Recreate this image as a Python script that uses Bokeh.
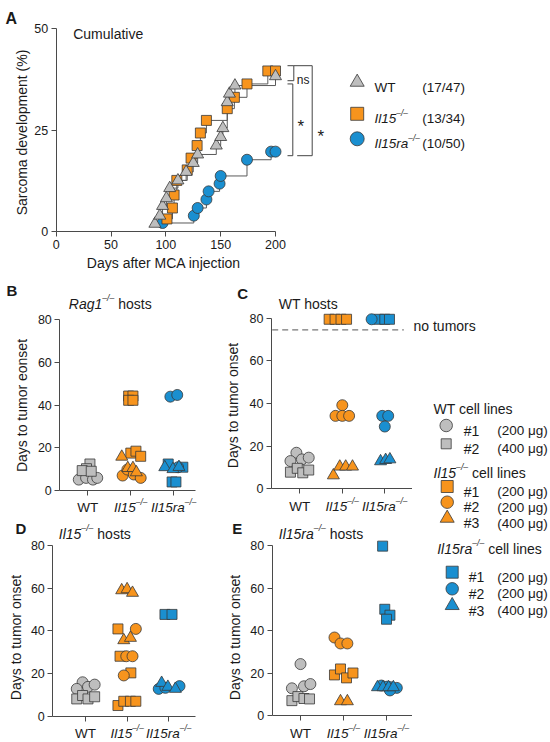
import math
from bokeh.plotting import figure
from bokeh.models import Range1d, FixedTicker, Label
from bokeh.layouts import column, row
from bokeh.embed import file_html
from bokeh.resources import INLINE

FONT = "Liberation Sans"
TXT = "#1a1a1a"
GRAY, ORANGE, BLUE = "#bebebe", "#f7941d", "#1a8fd0"
EDGE = "#383838"
AXC = "#4a4a4a"

# ---------------- Panel A data (cumulative sarcoma development) ----------------
A_WT_DAYS = [90, 94.5, 97, 100.5, 103.5, 111, 118.5, 125, 129, 146, 150, 152, 156, 158, 163, 200]
A_WT_PCT = [1.9, 3.9, 6.3, 8.2, 10.7, 12.6, 14.7, 16.9, 19.0, 21.2, 23.3, 25.5, 31.9, 34.0, 36.0, 38.3]
A_IL15_DAYS = [101, 106, 107.5, 110, 119.5, 123, 128.5, 131.5, 137, 156, 162.5, 174, 193, 200]
A_IL15_PCT = [3.1, 5.8, 9.0, 12.6, 15.2, 18.1, 21.2, 24.3, 27.4, 30.3, 33.1, 36.4, 39.6, 39.6]
A_IL15RA_DAYS = [97, 125.5, 129, 137, 139, 149, 150, 174, 196, 200]
A_IL15RA_PCT = [2.1, 3.9, 5.8, 7.9, 9.9, 11.8, 13.7, 17.7, 19.7, 19.7]
A_COUNTS = ["(17/47)", "(13/34)", "(10/50)"]
A_X_TICKS = [0, 50, 100, 150, 200]
A_Y_TICKS = [0, 25, 50]
A_SIG = [(37.2, 40.9, "ns"), (18.7, 36.4, "*"), (18.7, 40.9, "*")]

# ---------------- Panels B-E: days to tumor onset (jitter, value) ----------------
B_WT1_JIT = [-0.21, -0.04, 0.12, 0.22]
B_WT1_Y = [5.1, 5.9, 5.1, 5.9]
B_WT2_JIT = [0.05, -0.03, -0.13, 0.08]
B_WT2_Y = [12.4, 10.2, 9.3, 9.0]
B_IL15_1_JIT = [-0.05, 0.05, -0.05, 0.05, 0.0, 0.12, 0.23]
B_IL15_1_Y = [44.2, 44.2, 42.2, 42.2, 17.5, 18.4, 16.0]
B_IL15_2_JIT = [-0.19, -0.08, 0.07, 0.23]
B_IL15_2_Y = [7.0, 9.8, 7.5, 5.9]
B_IL15_3_JIT = [-0.21, -0.07, 0.05, 0.13]
B_IL15_3_Y = [15.8, 10.5, 10.5, 8.5]
B_IL15RA_1_JIT = [-0.13, 0.21, -0.04, 0.05]
B_IL15RA_1_Y = [12.4, 10.9, 4.0, 4.0]
B_IL15RA_2_JIT = [-0.08, 0.08, 0.10]
B_IL15RA_2_Y = [43.9, 44.7, 10.9]
B_IL15RA_3_JIT = [-0.21, -0.02, 0.12]
B_IL15RA_3_Y = [10.9, 10.0, 11.0]

C_WT1_JIT = [-0.08, -0.22, 0.05, 0.21]
C_WT1_Y = [16.9, 13.0, 13.8, 14.6]
C_WT2_JIT = [-0.22, -0.06, 0.07, 0.21]
C_WT2_Y = [7.8, 9.6, 7.5, 8.8]
C_IL15_1_JIT = [-0.31, -0.17, -0.03, 0.10]
C_IL15_1_Y = [79.5, 79.5, 79.5, 79.5]
C_IL15_2_JIT = [0.0, -0.16, 0.0, 0.16]
C_IL15_2_Y = [39.2, 34.2, 34.2, 34.2]
C_IL15_3_JIT = [-0.21, -0.06, 0.08, 0.24]
C_IL15_3_Y = [6.3, 10.4, 10.4, 10.4]
C_IL15RA_1_JIT = [-0.14, 0.0, 0.11]
C_IL15RA_1_Y = [79.5, 79.5, 79.5]
C_IL15RA_2_JIT = [-0.31, -0.06, 0.08, 0.0]
C_IL15RA_2_Y = [79.5, 34.2, 34.2, 29.2]
C_IL15RA_3_JIT = [-0.10, 0.02, 0.12]
C_IL15RA_3_Y = [12.9, 13.5, 13.8]
C_NO_TUMOR_LINE = 74.5

D_WT1_JIT = [-0.07, -0.21, 0.06, 0.22]
D_WT1_Y = [15.9, 12.8, 13.75, 14.8]
D_WT2_JIT = [-0.21, -0.07, 0.06, 0.22]
D_WT2_Y = [8.1, 9.7, 8.1, 9.1]
D_IL15_1_JIT = [-0.22, -0.17, 0.09, -0.22, -0.08, 0.08, 0.21]
D_IL15_1_Y = [40.9, 28.1, 20.3, 5.0, 7.0, 7.0, 7.0]
D_IL15_2_JIT = [0.21, -0.02, 0.13, -0.08]
D_IL15_2_Y = [40.9, 28.1, 28.1, 19.1]
D_IL15_3_JIT = [-0.13, 0.0, 0.13, -0.08, 0.08]
D_IL15_3_Y = [59.0, 59.5, 57.8, 35.6, 36.7]
D_IL15RA_1_JIT = [-0.09, 0.08]
D_IL15RA_1_Y = [47.7, 47.7]
D_IL15RA_2_JIT = [-0.24, -0.08, 0.26]
D_IL15RA_2_Y = [12.8, 13.3, 14.1]
D_IL15RA_3_JIT = [-0.17, -0.02, 0.16]
D_IL15RA_3_Y = [15.6, 13.75, 12.8]

E_WT1_JIT = [0.0, -0.20, 0.08, 0.23]
E_WT1_Y = [24.2, 12.8, 13.75, 14.8]
E_WT2_JIT = [-0.20, -0.06, 0.08, 0.21]
E_WT2_Y = [7.0, 8.9, 8.0, 7.8]
E_IL15_1_JIT = [-0.21, -0.07, 0.07, 0.22]
E_IL15_1_Y = [19.1, 21.9, 17.7, 20.0]
E_IL15_2_JIT = [-0.21, -0.07, 0.09]
E_IL15_2_Y = [36.7, 33.9, 33.9]
E_IL15_3_JIT = [-0.07, 0.09]
E_IL15_3_Y = [6.7, 6.7]
E_IL15RA_1_JIT = [-0.09, -0.04, 0.08, 0.0]
E_IL15RA_1_Y = [79.7, 50.0, 47.2, 45.3]
E_IL15RA_2_JIT = [-0.12, 0.02, 0.10, 0.24, 0.08]
E_IL15RA_2_Y = [14.1, 13.6, 13.3, 13.0, 11.8]
E_IL15RA_3_JIT = [-0.21, -0.08, 0.05, 0.16]
E_IL15RA_3_Y = [13.3, 13.3, 13.3, 13.3]

ONSET_Y_TICKS = [0, 20, 40, 60, 80]
CATEGORY_POS = [1, 2, 3]
CATEGORY_LABELS = [[("WT", "n")], [("Il15", "i"), ("–/–", "s")], [("Il15ra", "i"), ("–/–", "s")]]
SERIES = [("WT1", 1, "circle", GRAY), ("WT2", 1, "square", GRAY),
          ("IL15_1", 2, "square", ORANGE), ("IL15_2", 2, "circle", ORANGE), ("IL15_3", 2, "triangle", ORANGE),
          ("IL15RA_1", 3, "square", BLUE), ("IL15RA_2", 3, "circle", BLUE), ("IL15RA_3", 3, "triangle", BLUE)]
MSIZE = {"circle": 11, "square": 10, "triangle": 12}

# ---------------- text helpers ----------------
CW = {'I': 278, 'l': 222, '1': 556, '5': 556, 'r': 333, 'a': 556, '–': 556, '/': 278, ' ': 278,
      'h': 556, 'o': 556, 's': 500, 't': 278, 'R': 722, 'g': 556, 'c': 500, 'e': 556, 'i': 222,
      'n': 556, 'W': 944, 'T': 611, '(': 333, ')': 333, '#': 556, 'μ': 576, 'u': 556, 'm': 833}


def tw(s, size):
    return sum(CW.get(ch, 556) for ch in s) / 1000.0 * size


class Panel:
    """A figure whose frame fills its canvas; (ox, oy) is its page position.
    mapx = (data value, page x, px per unit); mapy = (data value, page y, px per unit)."""

    def __init__(self, ox, oy, w, h, mapx, mapy):
        vx, px, sx = mapx
        vy, py, sy = mapy
        x0 = vx - (px - ox) / sx
        y1 = vy + (py - oy) / sy
        self.ox, self.oy, self.w, self.h = ox, oy, w, h
        self.xr = (x0, x0 + w / sx)
        self.yr = (y1 - h / sy, y1)
        self.p = figure(width=w, height=h, x_range=Range1d(*self.xr), y_range=Range1d(*self.yr),
                        output_backend="svg", toolbar_location=None, title=None,
                        min_border=0, min_border_left=0, min_border_right=0,
                        min_border_top=0, min_border_bottom=0)
        self.p.grid.visible = False
        self.p.outline_line_color = None
        self.p.background_fill_color = "white"
        self.p.border_fill_color = "white"

    def X(self, px):
        return self.xr[0] + (px - self.ox) / self.w * (self.xr[1] - self.xr[0])

    def Y(self, py):
        return self.yr[1] - (py - self.oy) / self.h * (self.yr[1] - self.yr[0])

    def text(self, px, py, parts, size, align="left", color=TXT):
        """px: left (or centre) page x, py: visual centre page y"""
        sup = 0.62
        widths = [tw(t, size * sup if k == "s" else size) for t, k in parts]
        total = sum(widths)
        off = 0.0 if align == "left" else -total / 2.0
        x, y = self.X(px), self.Y(py)
        for (t, k), wdt in zip(parts, widths):
            fs = size * sup if k == "s" else size
            stripped = t.lstrip(" ")
            lead = tw(" " * (len(t) - len(stripped)), fs)
            yo = -0.36 * size + (0.42 * size if k == "s" else 0.0)
            if k == "star":
                yo = -0.55 * size
            self.p.add_layout(Label(x=x, y=y, text=stripped, x_offset=off + lead, y_offset=yo,
                                    text_font=FONT, text_font_size=f"{fs:.1f}px",
                                    text_font_style={"i": "italic", "s": "italic", "b": "bold"}.get(k, "normal"),
                                    text_align="left", text_baseline="alphabetic", text_color=color))
            off += wdt

    def vtext(self, px, py, s, size):
        self.p.add_layout(Label(x=self.X(px), y=self.Y(py), text=s, angle=math.pi / 2,
                                text_font=FONT, text_font_size=f"{size}px", text_align="center",
                                text_baseline="middle", text_color=TXT))


def style_axes(P, xticks, xb, xloc, yticks, yb, yloc, tick_size, tick_standoff, hide_x_labels=False):
    p = P.p
    for ax in (p.xaxis[0], p.yaxis[0]):
        ax.axis_line_color = AXC
        ax.axis_line_width = 1
        ax.major_tick_line_color = AXC
        ax.major_tick_out = 5
        ax.major_tick_in = 0
        ax.minor_tick_line_color = None
        ax.major_label_text_font = FONT
        ax.major_label_text_font_size = tick_size
        ax.major_label_text_color = TXT
        ax.major_label_standoff = tick_standoff
    p.xaxis.ticker = FixedTicker(ticks=xticks)
    p.xaxis.bounds = xb
    p.xaxis.fixed_location = xloc
    p.yaxis.ticker = FixedTicker(ticks=yticks)
    p.yaxis.bounds = yb
    p.yaxis.fixed_location = yloc
    if hide_x_labels:
        p.xaxis.major_label_text_color = None


def mk(p, xs, ys, marker, color, size):
    p.scatter(xs, ys, marker=marker, size=size, fill_color=color, line_color=EDGE, line_width=0.8)


# ---------------- Panel A ----------------
A = Panel(0, 0, 550, 272, (0, 55.7, 1.0965), (0, 231, 4.054))
style_axes(A, A_X_TICKS, (0, 200), 0, A_Y_TICKS, (0, 50), 0, "12.5px", 3)
pa = A.p
for days, pct in ((A_IL15RA_DAYS, A_IL15RA_PCT), (A_IL15_DAYS, A_IL15_PCT), (A_WT_DAYS, A_WT_PCT)):
    pa.step(days, pct, mode="after", line_color="#5a5a5a", line_width=1)
mk(pa, A_IL15RA_DAYS, A_IL15RA_PCT, "circle", BLUE, 11)
mk(pa, A_IL15_DAYS, A_IL15_PCT, "square", ORANGE, 10)
mk(pa, A_WT_DAYS, A_WT_PCT, "triangle", GRAY, 12)

# significance brackets
bx_in, bx_ns, bx_mid, bx_out, bx_outlow = A.X(287), A.X(293.3), A.X(292.3), A.X(311.7), A.X(296.7)
(ns_lo, ns_hi, ns_t), (s1_lo, s1_hi, s1_t), (s2_lo, s2_hi, s2_t) = A_SIG
pa.multi_line(
    xs=[[bx_in, bx_ns, bx_ns, bx_in], [bx_in, bx_mid, bx_mid, bx_in], [bx_ns, bx_out, bx_out, bx_outlow]],
    ys=[[ns_hi, ns_hi, ns_lo, ns_lo], [s1_hi, s1_hi, s1_lo, s1_lo], [s2_hi, s2_hi, s2_lo, s2_lo]],
    line_color="#444444", line_width=1)
A.text(302.7, 75, [(ns_t, "n")], 12, align="center")
A.text(301.7, 117, [(s1_t, "star")], 17, align="center")
A.text(321.7, 127, [(s2_t, "star")], 17, align="center")

# legend A
A_LEG = [("triangle", GRAY, 14, [("WT", "n")]),
         ("square", ORANGE, 13, [("Il15", "i"), ("–/–", "s")]),
         ("circle", BLUE, 14, [("Il15ra", "i"), ("–/–", "s")])]
for (marker, col, sz, parts), cnt, py in zip(A_LEG, A_COUNTS, (81.7, 113.3, 138.3)):
    mk(pa, [A.X(356.7)], [A.Y(py)], marker, col, sz)
    A.text(374, py, parts, 13.5)
    A.text(421.7, py, [(cnt, "n")], 13.5)
A.text(72.7, 28.3, [("Cumulative", "n")], 14)
A.text(5, 12.5, [("A", "b")], 16)
A.vtext(21, 132, "Sarcoma development (%)", 14)
A.text(163, 257, [("Days after MCA injection", "n")], 14, align="center")


# ---------------- Panels B-E ----------------
def onset_panel(prefix, ox, oy, w, h, cat1, sp, y0_page, per_unit, yaxis_page, xend_page,
                ylabel, ylabel_xy, letter, letter_xy, title_parts, title_xy, cat_y):
    P = Panel(ox, oy, w, h, (1, cat1, sp), (0, y0_page, per_unit))
    style_axes(P, CATEGORY_POS, (P.X(yaxis_page), P.X(xend_page)), 0,
               ONSET_Y_TICKS, (0, 80), P.X(yaxis_page), "12.5px", 3, hide_x_labels=True)
    g = globals()
    for name, cat, marker, col in SERIES:
        jit = g[f"{prefix}_{name}_JIT"]
        ys = g[f"{prefix}_{name}_Y"]
        mk(P.p, [cat + j for j in jit], ys, marker, col, MSIZE[marker])
    for c, parts in zip(CATEGORY_POS, CATEGORY_LABELS):
        P.text(cat1 + (c - 1) * sp, cat_y, parts, 13.5, align="center")
    P.text(letter_xy[0], letter_xy[1], [(letter, "b")], 15)
    P.text(title_xy[0], title_xy[1], title_parts, 14)
    P.vtext(ylabel_xy[0], ylabel_xy[1], ylabel, 14)
    return P


ROW2_TOP, ROW3_TOP = 272, 514
H2, H3 = ROW3_TOP - ROW2_TOP, 742 - ROW3_TOP

B = onset_panel("B", 0, ROW2_TOP, 215, H2, 87.3, 43.0, 490, 2.1375, 59.3, 195,
                "Days to tumor eonset", (21, 405), "B", (6, 285),
                [("Rag1", "i"), ("–/–", "s"), (" hosts", "n")], (68.3, 298), 502)
C = onset_panel("C", 215, ROW2_TOP, 197, H2, 299.3, 42.5, 488.3, 2.1325, 271, 411.7,
                "Days to tumor onset", (232.5, 405), "C", (236.7, 287.7),
                [("WT hosts", "n")], (278.3, 298.3), 501.5)
# dashed "no tumors" threshold line, from the y axis to the end of the x axis
C.p.line([C.X(271.7), C.X(403.3)], [C_NO_TUMOR_LINE, C_NO_TUMOR_LINE], line_color="#777777",
         line_width=1.2, line_dash="6 4")
D = onset_panel("D", 0, ROW3_TOP, 215, H3, 85.0, 41.6, 715.7, 2.134, 52.3, 195,
                "Days to tumor onset", (15, 637), "D", (15, 522.5),
                [("Il15", "i"), ("–/–", "s"), (" hosts", "n")], (58.3, 528.3), 728)
E = onset_panel("E", 215, ROW3_TOP, 197, H3, 300.0, 43.0, 715, 2.125, 271.7, 411.5,
                "Days to tumor onset", (234, 637), "E", (231.7, 523),
                [("Il15ra", "i"), ("–/–", "s"), (" hosts", "n")], (278.3, 528.3), 728)

# ---------------- cell-line legend ----------------
L = Panel(412, ROW2_TOP, 138, 742 - ROW2_TOP, (0, 412, 1.0), (0, 742, 1.0))
L.p.xaxis.visible = False
L.p.yaxis.visible = False
WT_LINES = [("circle", "#1", "(200 μg)", 12.5), ("square", "#2", "(400 μg)", 10)]
IL15_LINES = [("square", "#1", "(200 μg)", 12), ("circle", "#2", "(200 μg)", 12.5), ("triangle", "#3", "(400 μg)", 14)]
IL15RA_LINES = [("square", "#1", "(200 μg)", 12), ("circle", "#2", "(200 μg)", 12.5), ("triangle", "#3", "(400 μg)", 14)]

L.text(413, 320, [("no tumors", "n")], 14)
L.text(433, 403.3, [("WT cell lines", "n")], 14)
for (marker, idx, dose, sz), py in zip(WT_LINES, (425, 443.3)):
    mk(L.p, [L.X(445.7)], [L.Y(py)], marker, GRAY, sz)
    L.text(463.3, py, [(idx, "n")], 14)
    L.text(496.7, py, [(dose, "n")], 13.5)
L.text(433, 467.3, [("Il15", "i"), ("–/–", "s"), (" cell lines", "n")], 14)
for (marker, idx, dose, sz), py in zip(IL15_LINES, (486, 501.7, 517.7)):
    mk(L.p, [L.X(446.7)], [L.Y(py)], marker, ORANGE, sz)
    L.text(463.3, py, [(idx, "n")], 14)
    L.text(496.7, py, [(dose, "n")], 13.5)
L.text(436.7, 543.3, [("Il15ra", "i"), ("–/–", "s"), (" cell lines", "n")], 14)
for (marker, idx, dose, sz), py in zip(IL15RA_LINES, (571.7, 588.3, 605)):
    mk(L.p, [L.X(451.7)], [L.Y(py)], marker, BLUE, sz)
    L.text(468.3, py, [(idx, "n")], 14)
    L.text(496.7, py, [(dose, "n")], 13.5)

layout = column(A.p, row(column(B.p, D.p), column(C.p, E.p), L.p))
open("out.html", "w").write(file_html(layout, INLINE))
